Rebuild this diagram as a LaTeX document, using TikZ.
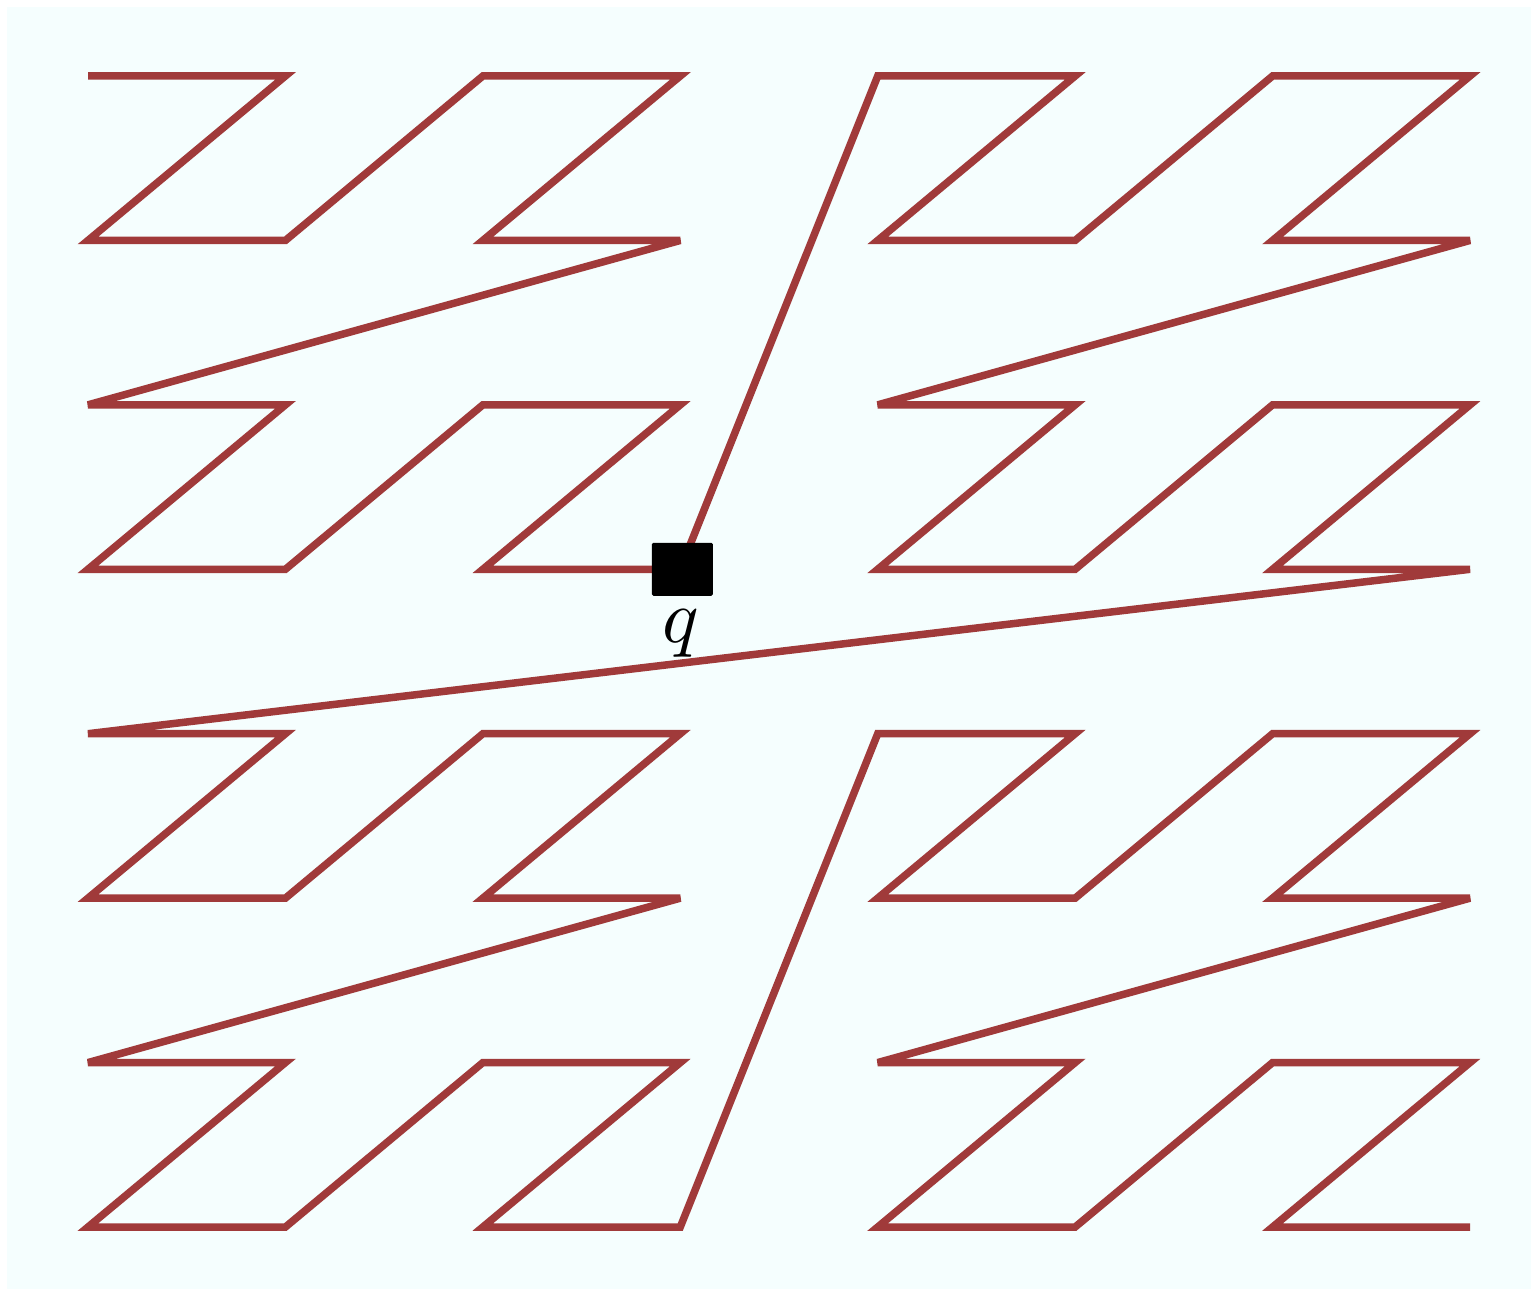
\documentclass[tikz,border=0pt]{standalone}
\definecolor{bgcol}{RGB}{245,254,254}
\definecolor{curvecol}{RGB}{160,58,58}
\tikzset{
  zcurve/.style={draw=curvecol, line width=7.5pt, miter limit=5},
  qbox/.style={fill=black, rounded corners=1.5pt, minimum width=61pt, minimum height=53pt, inner sep=0pt},
  qlabel/.style={anchor=base, scale=7.6, inner sep=0pt}
}
\begin{document}
\begin{tikzpicture}[x=1pt,y=1pt]
\useasboundingbox (0,0) rectangle (1531,-1289);
\fill[bgcol] (7,-7) rectangle (1531,-1289);
\begin{scope}[shift={(88,-76)}, x=197.43pt, y=-164.43pt]
\draw[zcurve] (0,0) foreach \n in {1,...,63} { -- ({mod(\n,2)+2*mod(floor(\n/4),2)+4*mod(floor(\n/16),2)},{mod(floor(\n/2),2)+2*mod(floor(\n/8),2)+4*mod(floor(\n/32),2)}) };
\node[qbox] (q) at ([xshift=2pt]3,3) {};
\end{scope}
\node[qlabel] (ql) at ([xshift=-1pt,yshift=-47pt]q.south) {$q$};
\end{tikzpicture}
\end{document}
